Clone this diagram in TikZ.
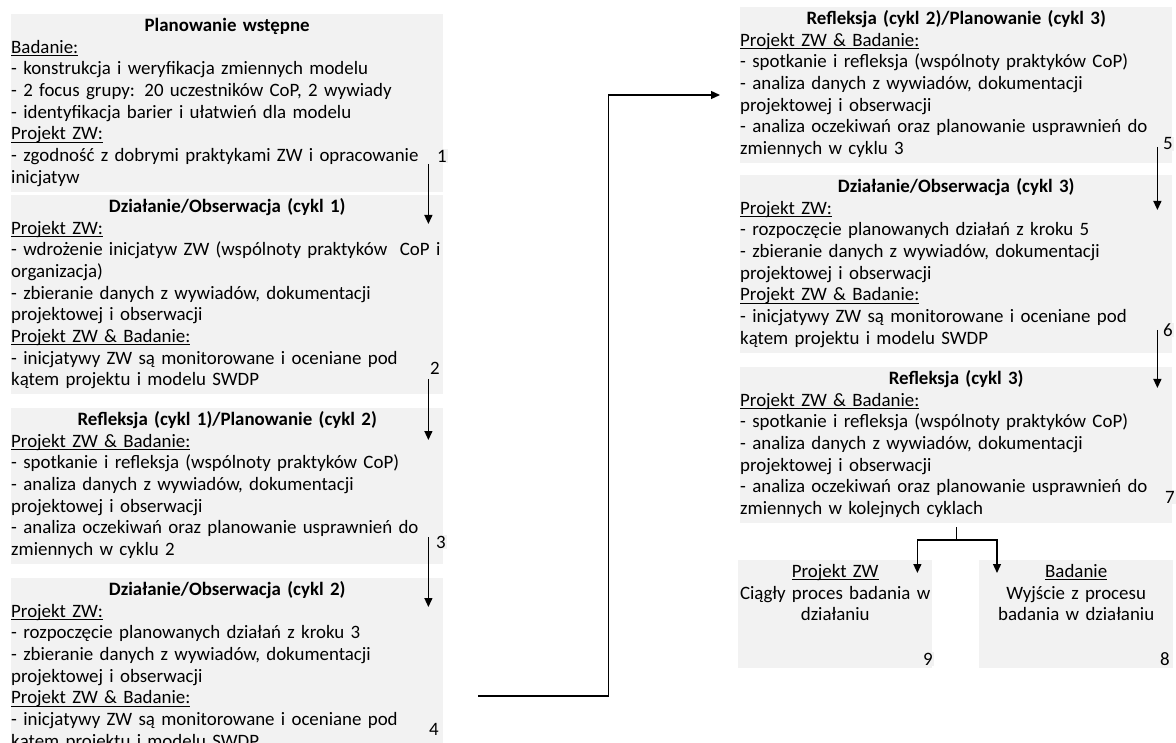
\documentclass[tikz,border=0pt]{standalone}
\usepackage{fontspec}
\setmainfont{Carlito}
\usetikzlibrary{arrows.meta}
\definecolor{boxgray}{HTML}{F2F2F2}
\newcommand{\boxfont}{\fontsize{18.9}{21.7}\selectfont}
\newcommand{\hd}[1]{\makebox[\linewidth]{\bfseries #1}}
\newcommand{\ulbl}[1]{\leavevmode\setbox0\hbox{#1}\rlap{\rule[-2.6pt]{\wd0}{0.9pt}}\box0}

\begin{document}
\begin{tikzpicture}[x=1pt,y=-1pt,
      stage/.style={fill=boxgray,anchor=north west,text width=432pt,align=left,inner xsep=0pt,inner ysep=2pt,font=\boxfont,execute at begin node=\strut,execute at end node=\strut},
      endbox/.style={fill=boxgray,anchor=north west,minimum width=194pt,minimum height=108pt,inner sep=0pt},
      endtext/.style={anchor=north,text width=194pt,align=center,inner xsep=0pt,inner ysep=2pt,font=\boxfont,execute at begin node=\strut},
      num/.style={fill=boxgray,inner sep=1pt,font=\boxfont},
      line/.style={line width=1.3pt},
      flow/.style={line,-{Triangle[width=8pt,length=9pt]}}]
      \useasboundingbox (0,0) rectangle (1176,743);
      \clip (0,0) rectangle (1176,743);
      \node[stage] (b1) at (11,14) {\hd{Planowanie wstępne}\\
        \ulbl{Badanie:}\\
        - konstrukcja i weryfikacja zmiennych modelu\\
        - 2 focus grupy: 20 uczestników CoP, 2 wywiady\\
        - identyfikacja barier i ułatwień dla modelu\\
        \ulbl{Projekt ZW:}\\
        - zgodność z dobrymi praktykami ZW i opracowanie\\
        inicjatyw};
      \node[stage] (b2) at (11,195) {\hd{Działanie/Obserwacja (cykl 1)}\\
        \ulbl{Projekt ZW:}\\
        - wdrożenie inicjatyw ZW (wspólnoty praktyków~ CoP i\\
        organizacja)\\
        - zbieranie danych z wywiadów, dokumentacji\\
        projektowej i obserwacji\\
        \ulbl{Projekt ZW \& Badanie:}\\
        - inicjatywy ZW są monitorowane i oceniane pod\\
        kątem projektu i modelu SWDP};
      \node[stage] (b3) at (11,408) {\hd{Refleksja (cykl 1)/Planowanie (cykl 2)}\\
        \ulbl{Projekt ZW \& Badanie:}\\
        - spotkanie i refleksja (wspólnoty praktyków CoP)\\
        - analiza danych z wywiadów, dokumentacji\\
        projektowej i obserwacji\\
        - analiza oczekiwań oraz planowanie usprawnień do\\
        zmiennych w cyklu 2};
      \node[stage] (b4) at (11,578) {\hd{Działanie/Obserwacja (cykl 2)}\\
        \ulbl{Projekt ZW:}\\
        - rozpoczęcie planowanych działań z kroku 3\\
        - zbieranie danych z wywiadów, dokumentacji\\
        projektowej i obserwacji\\
        \ulbl{Projekt ZW \& Badanie:}\\
        - inicjatywy ZW są monitorowane i oceniane pod\\
        kątem projektu i modelu SWDP};
      \node[stage] (b5) at (740,7) {\hd{Refleksja (cykl 2)/Planowanie (cykl 3)}\\
        \ulbl{Projekt ZW \& Badanie:}\\
        - spotkanie i refleksja (wspólnoty praktyków CoP)\\
        - analiza danych z wywiadów, dokumentacji\\
        projektowej i obserwacji\\
        - analiza oczekiwań oraz planowanie usprawnień do\\
        zmiennych w cyklu 3};
      \node[stage] (b6) at (740,175) {\hd{Działanie/Obserwacja (cykl 3)}\\
        \ulbl{Projekt ZW:}\\
        - rozpoczęcie planowanych działań z kroku 5\\
        - zbieranie danych z wywiadów, dokumentacji\\
        projektowej i obserwacji\\
        \ulbl{Projekt ZW \& Badanie:}\\
        - inicjatywy ZW są monitorowane i oceniane pod\\
        kątem projektu i modelu SWDP};
      \node[stage] (b7) at (740,367) {\hd{Refleksja (cykl 3)}\\
        \ulbl{Projekt ZW \& Badanie:}\\
        - spotkanie i refleksja (wspólnoty praktyków CoP)\\
        - analiza danych z wywiadów, dokumentacji\\
        projektowej i obserwacji\\
        - analiza oczekiwań oraz planowanie usprawnień do\\
        zmiennych w kolejnych cyklach};
      \node[endbox] (b9) at (738,560) {};
      \node[endbox] (b8) at (979,560) {};
      \node[endtext] (t9) at (b9.north) {\ulbl{Projekt ZW}\\Ciągły proces badania w\\działaniu};
      \node[endtext] (t8) at (b8.north) {\ulbl{Badanie}\\Wyjście z procesu\\badania w działaniu};
      \node[num] (n1) at (442,156) {1};
      \node[num] (n2) at (435,368) {2};
      \node[num] (n3) at (441,542) {3};
      \node[num] (n4) at (434,729) {4};
      \node[num] (n5) at (1168,144) {5};
      \node[num] (n6) at (1168,330) {6};
      \node[num] (n7) at (1170,497) {7};
      \node[num] (n9) at (928,659) {9};
      \node[num] (n8) at (1165,659) {8};
      \foreach \a/\b/\s/\d in {1/2/8/29,2/3/11/32,3/4/-5/29,5/6/3/35,6/7/0/21}
        \draw[flow] ([xshift=-15pt,yshift=-\s pt]b\a.east |- n\a) -- ([xshift=-15pt,yshift=-\d pt]b\b.north east);
      \draw[flow] ([xshift=35pt,yshift=-118pt]b4.north east) -- ++(130,0) |- ([xshift=-20pt,yshift=-88pt]b5.north west);
      \coordinate (fork) at ([yshift=20pt]b9.north -| b7.south);
      \draw[line] ([yshift=-4pt]b7.south) -- (fork);
      \draw[flow] (fork) -| ([xshift=-15pt,yshift=-13pt]b9.north east);
      \draw[flow] (fork) -| ([xshift=18pt,yshift=-13pt]b8.north west);
\end{tikzpicture}
\end{document}
